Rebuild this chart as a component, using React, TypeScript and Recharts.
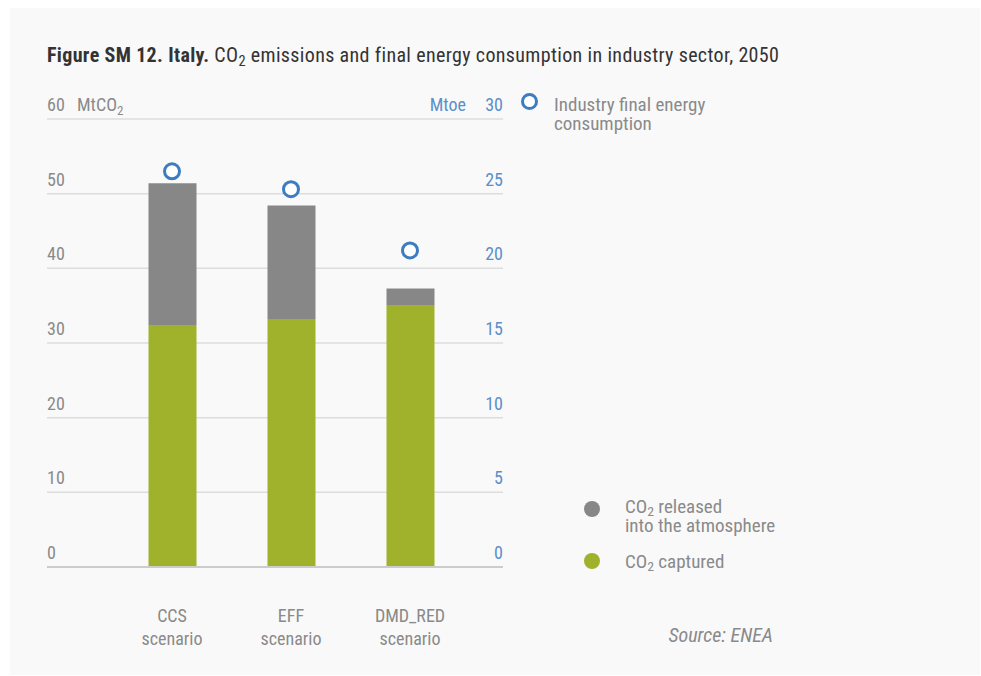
import React from 'react';
import { ComposedChart, Bar, Line, XAxis, YAxis, CartesianGrid, Legend } from 'recharts';

// values
const scenarios = ['CCS', 'EFF', 'DMD_RED'];
const co2Captured = [32.4, 33.2, 35.0];
const co2Released = [19.0, 15.2, 2.3];
const energyMtoe = [26.5, 25.3, 21.2];
const leftTicks = [0, 10, 20, 30, 40, 50, 60];
const rightTicks = [0, 5, 10, 15, 20, 25, 30];

const FONT = "'Roboto Condensed', 'Liberation Sans Narrow', 'Arial Narrow', 'DejaVu Sans Condensed', sans-serif";
const GREY_TEXT = '#8a8a8a';
const BLUE = '#3d7dbf';
const BLUE_TEXT = '#5a8fca';
const GREEN = '#a0b12c';
const GREY_BAR = '#878787';

const data = scenarios.map((s, i) => ({
  scenario: s,
  captured: co2Captured[i],
  released: co2Released[i],
  energy: energyMtoe[i],
}));

const LeftTick = ({ x, y, payload }: any) => (
  <g>
    <text x={x} y={y - 8} fill={GREY_TEXT} fontSize={18} fontFamily={FONT} textAnchor="start">
      {payload.value}
    </text>
    {payload.value === 60 && (
      <text x={x + 30} y={y - 8} fill={GREY_TEXT} fontSize={18} fontFamily={FONT}>
        MtCO<tspan fontSize={13} dy={4}>2</tspan>
      </text>
    )}
  </g>
);

const RightTick = ({ x, y, payload }: any) => (
  <g>
    <text x={x} y={y - 8} fill={BLUE_TEXT} fontSize={18} fontFamily={FONT} textAnchor="end">
      {payload.value}
    </text>
    {payload.value === 30 && (
      <text x={x - 37} y={y - 8} fill={BLUE_TEXT} fontSize={18} fontFamily={FONT} textAnchor="end">
        Mtoe
      </text>
    )}
  </g>
);

const CategoryTick = ({ x, y, payload }: any) => (
  <text x={x} y={y + 55} fill={GREY_TEXT} fontSize={18} fontFamily={FONT} textAnchor="middle">
    <tspan x={x}>{payload.value}</tspan>
    <tspan x={x} dy={23}>scenario</tspan>
  </text>
);

const Sub = ({ children }: any) => (
  <span style={{ fontSize: '0.72em', position: 'relative', top: '0.25em', lineHeight: 0 }}>{children}</span>
);

const LegendItems = () => {
  const text: React.CSSProperties = {
    position: 'absolute',
    fontFamily: FONT,
    fontSize: 19,
    lineHeight: '19px',
    color: GREY_TEXT,
    textAlign: 'left',
    whiteSpace: 'nowrap',
  };
  const dot = (color: string, left: number, top: number, hollow = false): React.CSSProperties => ({
    position: 'absolute',
    left,
    top,
    width: hollow ? 11 : 16,
    height: hollow ? 11 : 16,
    borderRadius: '50%',
    background: hollow ? '#fff' : color,
    border: hollow ? `3px solid ${color}` : 'none',
  });
  return (
    <div style={{ position: 'relative', width: 981, height: 676 }}>
      <div style={dot(BLUE, 521, 93, true)} />
      <div style={{ ...text, left: 554, top: 95 }}>
        Industry final energy
        <br />
        consumption
      </div>
      <div style={dot(GREY_BAR, 584, 501)} />
      <div style={{ ...text, left: 625, top: 497 }}>
        CO<Sub>2</Sub> released
        <br />
        into the atmosphere
      </div>
      <div style={dot(GREEN, 584, 553)} />
      <div style={{ ...text, left: 625, top: 552 }}>
        CO<Sub>2</Sub> captured
      </div>
    </div>
  );
};

export default function App() {
  return (
    <div style={{ position: 'relative', width: 981, height: 676, background: '#fff' }}>
      <style>{`body{margin:0}`}</style>
      <div
        style={{
          position: 'absolute',
          left: 10,
          top: 8,
          width: 970,
          height: 667,
          background: '#f9f9f9',
        }}
      />
      <div
        style={{
          position: 'absolute',
          left: 47,
          top: 43,
          fontFamily: FONT,
          fontSize: 20,
          letterSpacing: '0.35px',
          color: '#333',
          whiteSpace: 'nowrap',
        }}
      >
        <b>Figure SM 12. Italy.</b> CO<Sub>2</Sub> emissions and final energy consumption in industry sector, 2050
      </div>
      <div
        style={{
          position: 'absolute',
          right: 208,
          top: 623,
          fontFamily: FONT,
          fontSize: 20,
          fontStyle: 'italic',
          color: GREY_TEXT,
        }}
      >
        Source: ENEA
      </div>
      <div style={{ position: 'absolute', left: 0, top: 0 }}>
        <ComposedChart
          width={981}
          height={676}
          data={data}
          margin={{ top: 119, right: 477, bottom: 69, left: 46 }}
        >
          <CartesianGrid yAxisId="left" vertical={false} stroke="#dddddd" strokeWidth={1.5} />
          <XAxis
            dataKey="scenario"
            height={40}
            tickLine={false}
            tickSize={0}
            tickMargin={0}
            axisLine={{ stroke: '#cccccc', strokeWidth: 2 }}
            padding={{ left: 65.5, right: 33.5 }}
            tick={<CategoryTick />}
            interval={0}
          />
          <YAxis
            yAxisId="left"
            orientation="left"
            width={1}
            domain={[0, 60]}
            ticks={leftTicks}
            axisLine={false}
            tickLine={false}
            tickSize={0}
            tickMargin={0}
            tick={<LeftTick />}
          />
          <YAxis
            yAxisId="right"
            orientation="right"
            width={1}
            domain={[0, 30]}
            ticks={rightTicks}
            axisLine={false}
            tickLine={false}
            tickSize={0}
            tickMargin={0}
            tick={<RightTick />}
          />
          <Bar yAxisId="left" dataKey="captured" name="CO2 captured" stackId="co2" fill={GREEN} barSize={48} isAnimationActive={false} />
          <Bar yAxisId="left" dataKey="released" name="CO2 released into the atmosphere" stackId="co2" fill={GREY_BAR} barSize={48} isAnimationActive={false} />
          <Line
            yAxisId="right"
            dataKey="energy"
            name="Industry final energy consumption"
            stroke="none"
            dot={{ r: 7.5, stroke: BLUE, strokeWidth: 3, fill: '#fff' }}
            activeDot={false}
            isAnimationActive={false}
          />
          <Legend
            layout="horizontal"
            verticalAlign="middle"
            align="center"
            wrapperStyle={{ left: 0, top: 0, width: 981, height: 676, pointerEvents: 'none' }}
            content={() => <LegendItems />}
          />
        </ComposedChart>
      </div>
    </div>
  );
}
